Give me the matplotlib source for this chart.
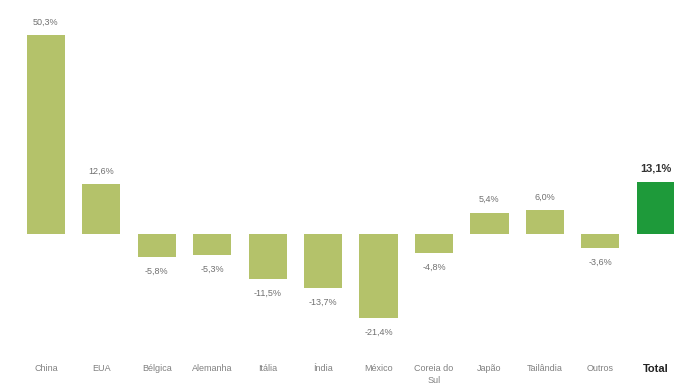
import matplotlib.pyplot as plt
import numpy as np

countries = ['China', 'EUA', 'Bélgica', 'Alemanha', 'Itália', 'Índia', 'México',
             'Coreia do\nSul', 'Japão', 'Tailândia', 'Outros', 'Total']
growth = [50.3, 12.6, -5.8, -5.3, -11.5, -13.7, -21.4, -4.8, 5.4, 6.0, -3.6, 13.1]

bar_color = '#b4c26a'
total_color = '#1e9a3a'

plt.rcParams['font.family'] = ['Liberation Sans', 'DejaVu Sans']

fig = plt.figure(figsize=(6.74, 3.89), dpi=100)
ax = fig.add_axes([0.027, 0.094, 0.987, 0.853])

x = np.arange(len(countries))
colors = [bar_color] * (len(countries) - 1) + [total_color]
ax.bar(x, growth, width=0.69, color=colors)

for i, v in enumerate(growth):
    txt = f"{v:.1f}%".replace('.', ',')
    is_total = countries[i] == 'Total'
    if v >= 0:
        ax.annotate(txt, (i, v), xytext=(0, 6), textcoords='offset points',
                    ha='center', va='bottom',
                    fontsize=8 if is_total else 6.5,
                    color='#333333' if is_total else '#707070',
                    fontweight='bold' if is_total else 'normal')
    else:
        ax.annotate(txt, (i, v), xytext=(0, -7), textcoords='offset points',
                    ha='center', va='top', fontsize=6.5, color='#707070')

ax.set_xlim(-0.5, len(countries) - 0.5)
ax.set_ylim(-30, 54)
ax.set_xticks(x)
ax.set_xticklabels(countries, fontsize=6.5, color='#808080', va='top', linespacing=1.4)
ax.tick_params(axis='x', length=0, pad=8.5)
lbl = ax.get_xticklabels()[-1]
lbl.set_fontweight('bold')
lbl.set_color('#222222')
lbl.set_fontsize(8)
ax.set_yticks([])
for s in ax.spines.values():
    s.set_visible(False)

fig.savefig('out.png', dpi=100)
